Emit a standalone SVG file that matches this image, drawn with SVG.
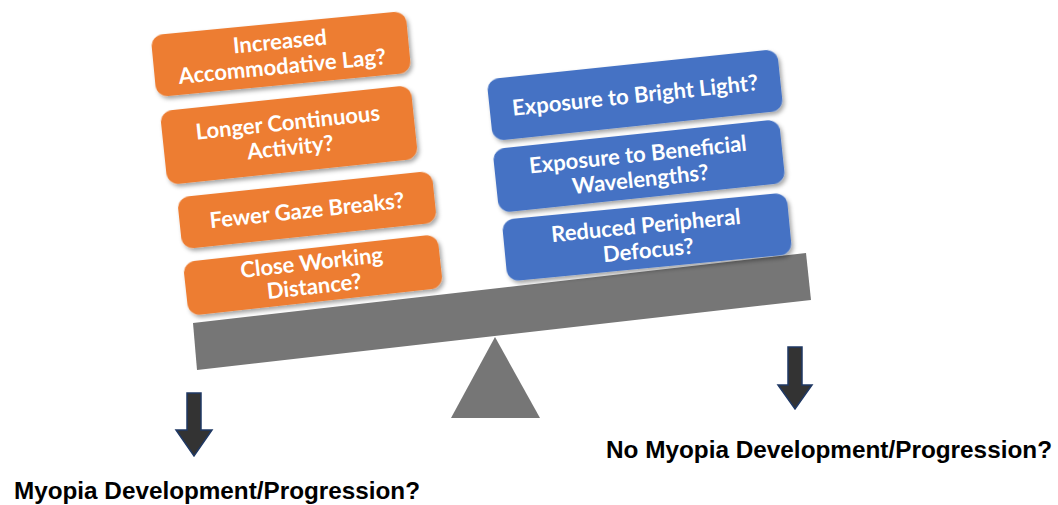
<svg xmlns="http://www.w3.org/2000/svg" width="1058" height="505" viewBox="0 0 1058 505">
<defs>
<filter id="sh" x="-10%" y="-20%" width="120%" height="150%">
<feDropShadow dx="2" dy="3" stdDeviation="2" flood-color="#000" flood-opacity="0.35"/>
</filter>
</defs>
<style>
.or{fill:#ED7D31;}
.bl{fill:#4472C4;}
.bt{font-family:Lato,"Open Sans",sans-serif;font-weight:bold;font-size:22px;fill:#fff;text-anchor:middle;}
.gray{fill:#767676;}
.arr{fill:#333;stroke:#1F3864;stroke-width:1.5;}
.lab{font-family:"Liberation Sans",Arial,sans-serif;font-weight:bold;font-size:24px;fill:#000;}
</style>
<rect width="1058" height="505" fill="#fff"/>
<g id="beam"><polygon class="gray" points="193,323 806,253 811,300 197,370"/></g>
<g id="fulcrum"><polygon class="gray" points="495,337 540,418 451,418"/></g>

<g id="o1" transform="translate(281,54) rotate(-5.5)">
<rect class="or" x="-128" y="-31" width="256" height="62" rx="12" filter="url(#sh)"/>
<text class="bt" y="-5">Increased</text><text class="bt" y="20">Accommodative Lag?</text>
</g>
<g id="o2" transform="translate(289,135) rotate(-6)">
<rect class="or" x="-126" y="-37" width="252" height="74" rx="12" filter="url(#sh)"/>
<text class="bt" y="-5">Longer Continuous</text><text class="bt" y="20">Activity?</text>
</g>
<g id="o3" transform="translate(307,210) rotate(-6)">
<rect class="or" x="-128" y="-26" width="256" height="52" rx="12" filter="url(#sh)"/>
<text class="bt" y="8">Fewer Gaze Breaks?</text>
</g>
<g id="o4" transform="translate(313,275) rotate(-6.3)">
<rect class="or" x="-128" y="-27" width="256" height="54" rx="12" filter="url(#sh)"/>
<text class="bt" y="-5">Close Working</text><text class="bt" y="19">Distance?</text>
</g>

<g id="b1" transform="translate(635,95) rotate(-6)">
<rect class="bl" x="-146" y="-31" width="292" height="62" rx="12" filter="url(#sh)"/>
<text class="bt" y="8">Exposure to Bright Light?</text>
</g>
<g id="b2" transform="translate(639,166) rotate(-6)">
<rect class="bl" x="-144" y="-32" width="288" height="64" rx="12" filter="url(#sh)"/>
<text class="bt" y="-4">Exposure to Beneficial</text><text class="bt" y="21">Wavelengths?</text>
</g>
<g id="b3" transform="translate(647,237) rotate(-5.5)">
<rect class="bl" x="-143" y="-31" width="286" height="62" rx="12" filter="url(#sh)"/>
<text class="bt" y="-4">Reduced Peripheral</text><text class="bt" y="21">Defocus?</text>
</g>

<g id="connectors">
<polygon class="arr" points="187,393 201,393 201,430 212,430 194,456 176,430 187,430"/>
<polygon class="arr" points="788,347 802,347 802,385 812,385 795,409 778,385 788,385"/>
</g>

<g id="outcomes">
<text class="lab" x="14" y="499" textLength="406" lengthAdjust="spacingAndGlyphs">Myopia Development/Progression?</text>
<text class="lab" x="606" y="458" textLength="446" lengthAdjust="spacingAndGlyphs">No Myopia Development/Progression?</text>
</g>
</svg>
